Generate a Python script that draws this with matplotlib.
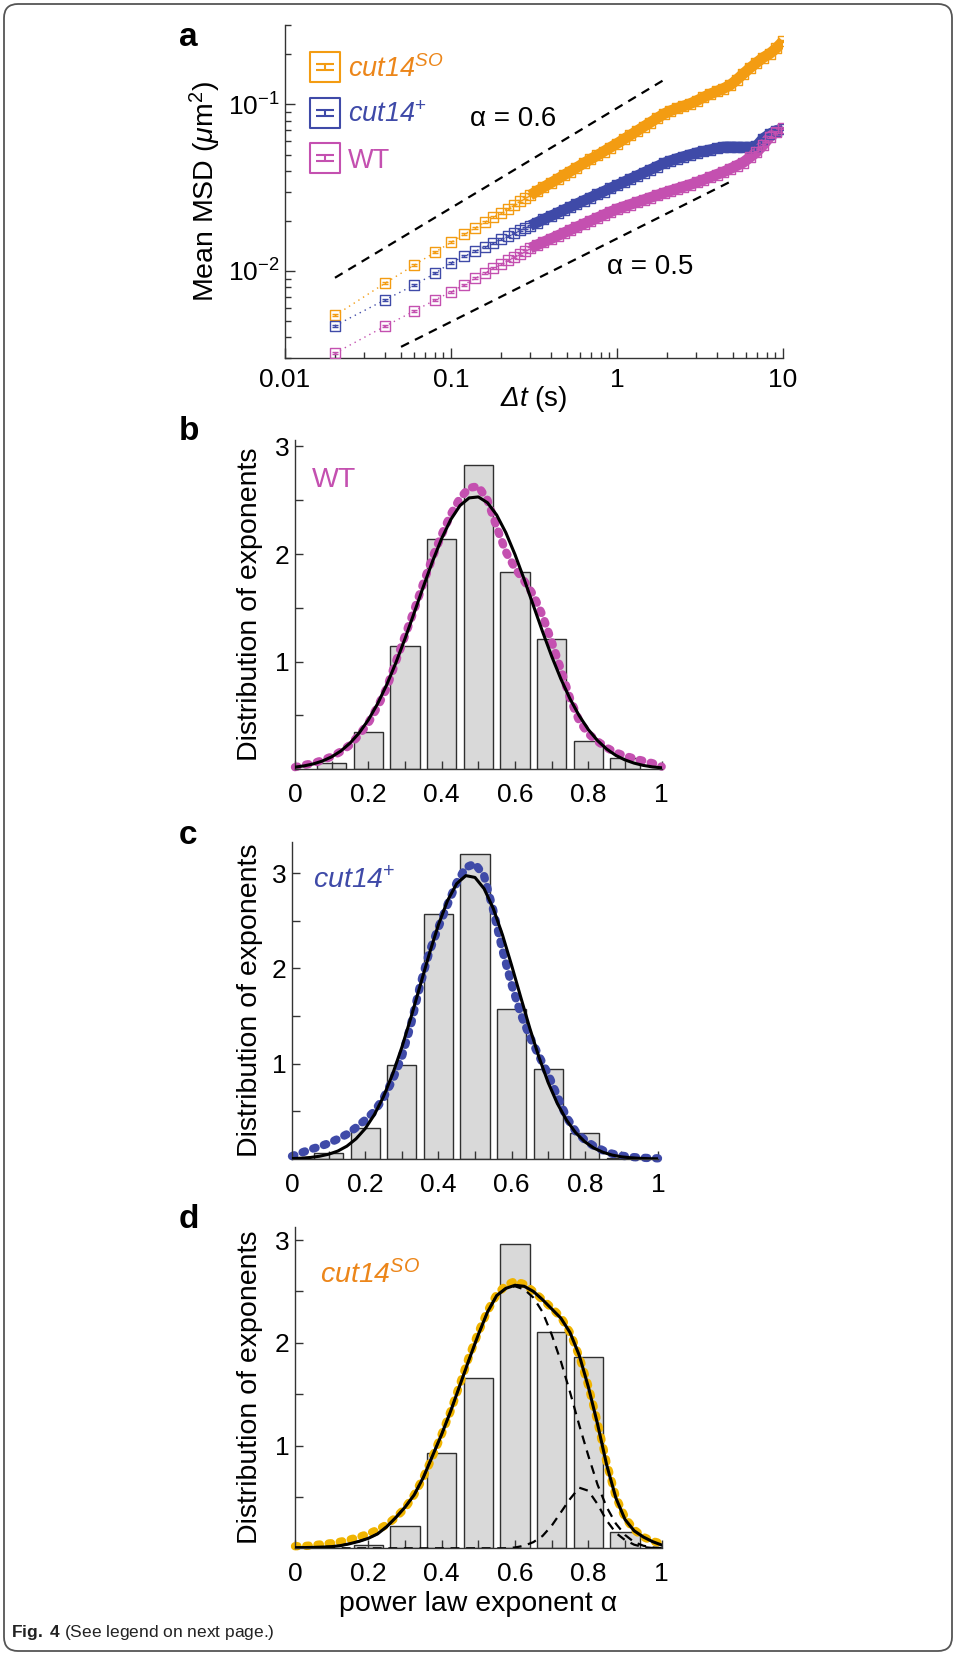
"""Fig. 4: mean MSD curves and distributions of power-law exponents."""

import matplotlib.pyplot as plt
from matplotlib.lines import Line2D
from matplotlib.patches import FancyBboxPatch
from matplotlib.path import Path
from matplotlib.ticker import FixedFormatter, FixedLocator, LogLocator, NullFormatter
from matplotlib.transforms import IdentityTransform

plt.rcParams["font.family"] = ["Liberation Sans", "DejaVu Sans"]
plt.rcParams["mathtext.fontset"] = "custom"
plt.rcParams["mathtext.rm"] = "Liberation Sans"
plt.rcParams["mathtext.it"] = "Liberation Sans:italic"
plt.rcParams["mathtext.sf"] = "Liberation Sans:italic"   # italic digits for gene names
plt.rcParams["mathtext.bf"] = "Liberation Sans:bold"

FIG_W, FIG_H = 956, 1655

# ---- panel a: mean MSD versus lag time (s, um^2)
lag_time = [0.02, 0.04, 0.06, 0.08, 0.10, 0.12, 0.14, 0.16, 0.18, 0.20, 0.22, 0.24, 0.26, 0.28, 0.30,
            0.33, 0.36, 0.40, 0.44, 0.48, 0.52, 0.57, 0.63, 0.69, 0.76, 0.83, 0.91, 1.00,
            1.10, 1.20, 1.32, 1.45, 1.58, 1.74, 1.91, 2.09, 2.29, 2.51, 2.75, 3.02, 3.31, 3.63,
            3.98, 4.37, 4.79, 5.25, 5.75, 6.31, 6.92, 7.59, 8.32, 9.12, 10.0]
msd_so = [0.00540, 0.00843, 0.01084, 0.01294, 0.01486, 0.01656, 0.01815, 0.01963, 0.02104, 0.02239,
          0.02371, 0.02496, 0.02618, 0.02735, 0.02851,
          0.0302, 0.0318, 0.0338, 0.0357, 0.0377, 0.0395, 0.0417, 0.0443, 0.0468, 0.0494, 0.0521,
          0.0551, 0.0582,
          0.0618, 0.0653, 0.0693, 0.0736, 0.0777, 0.0826, 0.0875, 0.0914, 0.0946, 0.0977, 0.1009,
          0.1052, 0.1102, 0.1153, 0.1197, 0.1245, 0.1303, 0.1403, 0.1524, 0.1652, 0.1778, 0.1910,
          0.2018, 0.2178, 0.2399]
msd_plus = [0.00469, 0.00670, 0.00822, 0.00966, 0.01122, 0.01222, 0.01313, 0.01396, 0.01476, 0.01549,
            0.01618, 0.01687, 0.01750, 0.01811, 0.01871,
            0.01954, 0.02037, 0.02138, 0.02234, 0.02328, 0.02415, 0.02523, 0.02642, 0.02754, 0.02884,
            0.03000, 0.03133, 0.03273,
            0.03420, 0.03565, 0.03724, 0.03890, 0.04046, 0.04236, 0.04426, 0.04581, 0.04721, 0.04853,
            0.04989, 0.05117, 0.05224, 0.05333, 0.05445, 0.05546, 0.05559, 0.05546, 0.05534, 0.05534,
            0.05623, 0.06237, 0.06637, 0.06966, 0.07145]
msd_wt = [0.00321, 0.00465, 0.00575, 0.00668, 0.00750, 0.00828, 0.00902, 0.00971, 0.01035, 0.01099,
          0.01156, 0.01213, 0.01268, 0.01321, 0.01371,
          0.01432, 0.01489, 0.01560, 0.01629, 0.01694, 0.01758, 0.01832, 0.01914, 0.01995, 0.02084,
          0.02168, 0.02259, 0.02355,
          0.02432, 0.02506, 0.02588, 0.02673, 0.02754, 0.02844, 0.02938, 0.03027, 0.03112, 0.03206,
          0.03296, 0.03404, 0.03524, 0.03656, 0.03793, 0.03926, 0.04102, 0.04285, 0.04477, 0.04808,
          0.05164, 0.05689, 0.06383, 0.06871, 0.07194]
guide_06_t = [0.02, 2.0]
guide_06_msd = [0.0091, 0.144]
guide_05_t = [0.05, 5.0]
guide_05_msd = [0.0035, 0.035]

# ---- panels b-d: exponent histograms, data curves and fits
bin_centers = [0.1, 0.2, 0.3, 0.4, 0.5, 0.6, 0.7, 0.8, 0.9]
hist_wt = [0.056, 0.35, 1.147, 2.138, 2.829, 1.838, 1.209, 0.267, 0.102]
hist_plus = [0.06, 0.329, 0.986, 2.57, 3.196, 1.573, 0.941, 0.269, 0.014]
hist_so = [0.0, 0.03, 0.217, 0.931, 1.661, 2.965, 2.108, 1.865, 0.156]

alpha_grid = [0.0, 0.025, 0.05, 0.075, 0.1, 0.125, 0.15, 0.175, 0.2, 0.225, 0.25, 0.275, 0.3, 0.325,
              0.35, 0.375, 0.4, 0.425, 0.45, 0.475, 0.5, 0.525, 0.55, 0.575, 0.6, 0.625, 0.65, 0.675,
              0.7, 0.725, 0.75, 0.775, 0.8, 0.825, 0.85, 0.875, 0.9, 0.925, 0.95, 0.975, 1.0]
fit_wt = [0.020, 0.032, 0.050, 0.077, 0.116, 0.170, 0.243, 0.338, 0.459, 0.608, 0.785, 0.989, 1.214,
          1.454, 1.697, 1.932, 2.145, 2.322, 2.451, 2.522, 2.531, 2.477, 2.363, 2.199, 1.995, 1.765,
          1.522, 1.280, 1.050, 0.840, 0.655, 0.498, 0.369, 0.267, 0.188, 0.129, 0.087, 0.057, 0.036,
          0.022, 0.014]
curve_wt = [0.02, 0.04, 0.056, 0.085, 0.118, 0.165, 0.226, 0.32, 0.43, 0.58, 0.753, 1.0, 1.24, 1.48,
            1.73, 1.97, 2.18, 2.37, 2.52, 2.615, 2.63, 2.50, 2.25, 2.02, 1.869, 1.75, 1.62, 1.43, 1.187,
            0.93, 0.66, 0.45, 0.33, 0.26, 0.20, 0.155, 0.125, 0.10, 0.078, 0.056, 0.025]
fit_plus = [0.0045, 0.0086, 0.016, 0.029, 0.050, 0.083, 0.135, 0.212, 0.319, 0.465, 0.655, 0.892,
            1.171, 1.485, 1.819, 2.151, 2.458, 2.712, 2.890, 2.974, 2.955, 2.836, 2.628, 2.353, 2.033,
            1.698, 1.369, 1.066, 0.801, 0.582, 0.408, 0.276, 0.181, 0.114, 0.070, 0.041, 0.023, 0.013,
            0.0068, 0.0035, 0.0017]
curve_plus = [0.03, 0.065, 0.10, 0.13, 0.165, 0.21, 0.26, 0.33, 0.41, 0.50, 0.64, 0.83, 1.07, 1.41,
              1.82, 2.17, 2.43, 2.67, 2.90, 3.06, 3.10, 2.97, 2.61, 2.19, 1.83, 1.52, 1.28, 1.08, 0.89,
              0.66, 0.44, 0.29, 0.20, 0.135, 0.09, 0.055, 0.035, 0.022, 0.015, 0.01, 0.007]
fit_so = [0.006, 0.007, 0.009, 0.012, 0.016, 0.027, 0.045, 0.068, 0.097, 0.14, 0.21, 0.30, 0.40, 0.52,
          0.69, 0.90, 1.11, 1.34, 1.59, 1.84, 2.08, 2.30, 2.46, 2.53, 2.56, 2.55, 2.50, 2.42, 2.33, 2.24,
          2.10, 1.88, 1.57, 1.21, 0.81, 0.49, 0.28, 0.17, 0.11, 0.065, 0.032]
curve_so = [0.02, 0.022, 0.03, 0.04, 0.05, 0.065, 0.085, 0.11, 0.14, 0.18, 0.23, 0.30, 0.39, 0.52, 0.69,
            0.89, 1.11, 1.34, 1.60, 1.87, 2.10, 2.31, 2.47, 2.56, 2.60, 2.57, 2.50, 2.42, 2.34, 2.25,
            2.10, 1.87, 1.58, 1.23, 0.83, 0.50, 0.30, 0.18, 0.11, 0.07, 0.045]
fit_so_slow = [0.006, 0.007, 0.009, 0.012, 0.016, 0.027, 0.045, 0.068, 0.097, 0.14, 0.21, 0.30, 0.40,
               0.52, 0.69, 0.90, 1.11, 1.34, 1.59, 1.84, 2.08, 2.30, 2.46, 2.53, 2.55, 2.52, 2.44, 2.30,
               2.08, 1.82, 1.52, 1.20, 0.90, 0.62, 0.40, 0.24, 0.13, 0.06, 0.025, 0.008, 0.002]
fit_so_fast = [0.0, 0.0, 0.0, 0.0, 0.0, 0.0, 0.0, 0.0, 0.0, 0.0, 0.0, 0.0, 0.0, 0.0, 0.0, 0.0, 0.0, 0.0,
               0.0, 0.0, 0.0, 0.0, 0.0, 0.0, 0.008, 0.025, 0.06, 0.12, 0.22, 0.35, 0.48, 0.59, 0.56,
               0.43, 0.27, 0.15, 0.08, 0.035, 0.012, 0.003, 0.0]

SO_COLOR = "#f39c12"
SO_TEXT = "#ec861a"
SO_CURVE = "#f0b400"
PLUS_COLOR = "#3f4aa8"
WT_COLOR = "#c450b0"
SPINE = "#333333"
LABEL_SO = r"$\mathsf{cut14}^{\mathsf{SO}}$"
LABEL_PLUS = r"$\mathsf{cut14}^{+}$"

box_marker = Path(
    [(-0.5, -0.5), (0.5, -0.5), (0.5, 0.5), (-0.5, 0.5), (-0.5, -0.5),
     (-0.32, 0.09), (0.32, 0.09), (-0.32, -0.09), (0.32, -0.09), (0.0, -0.09), (0.0, 0.09)],
    [Path.MOVETO, Path.LINETO, Path.LINETO, Path.LINETO, Path.CLOSEPOLY,
     Path.MOVETO, Path.LINETO, Path.MOVETO, Path.LINETO, Path.MOVETO, Path.LINETO],
)


def axes_box(figure, left, top, right, bottom):
    return figure.add_axes([left / FIG_W, 1 - bottom / FIG_H,
                            (right - left) / FIG_W, (bottom - top) / FIG_H])


def style_axis(axis):
    for side in ("top", "right"):
        axis.spines[side].set_visible(False)
    for side in ("left", "bottom"):
        axis.spines[side].set_color(SPINE)
        axis.spines[side].set_linewidth(1.0)
    axis.tick_params(which="both", direction="in", color=SPINE, width=1.0, labelsize=19)


def draw_histogram(axis, heights, fit, curve, curve_color, y_top):
    axis.bar(bin_centers, heights, width=0.08, color="#d9d9d9", edgecolor="#303030",
             linewidth=1.0, zorder=1)
    axis.plot(alpha_grid, curve, color=curve_color, lw=6.0, ls=(0, (0.3, 1.05)),
              dash_capstyle="round", zorder=2, clip_on=False)
    axis.plot(alpha_grid, fit, color="black", lw=2.2, zorder=4)
    axis.set_xlim(0, 1)
    axis.set_ylim(0, y_top)
    style_axis(axis)
    axis.xaxis.set_major_locator(FixedLocator([0, 0.2, 0.4, 0.6, 0.8, 1.0]))
    axis.xaxis.set_major_formatter(FixedFormatter(["0", "0.2", "0.4", "0.6", "0.8", "1"]))
    axis.xaxis.set_minor_locator(FixedLocator([0.1, 0.3, 0.5, 0.7, 0.9]))
    axis.yaxis.set_major_locator(FixedLocator([1, 2, 3]))
    axis.yaxis.set_major_formatter(FixedFormatter(["1", "2", "3"]))
    axis.yaxis.set_minor_locator(FixedLocator([0.5, 1.5, 2.5]))
    axis.tick_params(which="both", length=6)
    axis.tick_params(axis="x", which="both", pad=10)
    axis.tick_params(axis="y", which="both", pad=4)
    axis.set_ylabel("Distribution of exponents", fontsize=20.5, va="center")


fig = plt.figure(figsize=(FIG_W / 100, FIG_H / 100), dpi=100)

# ---- a
ax_a = axes_box(fig, 285, 25, 783, 358)
for values, color in ((msd_so, SO_COLOR), (msd_plus, PLUS_COLOR), (msd_wt, WT_COLOR)):
    ax_a.plot(lag_time, values, color=color, lw=1.0, ls=(0, (1, 3)), zorder=2)
    ax_a.plot(lag_time[14:], values[14:], color=color, lw=7.8, solid_capstyle="butt", zorder=3)
    ax_a.plot(lag_time, values, ls="none", marker=box_marker, ms=7.5, mfc="none", mec=color,
              mew=1.0, zorder=4)
ax_a.plot(guide_06_t, guide_06_msd, color="black", lw=1.6, ls=(0, (4, 3)))
ax_a.plot(guide_05_t, guide_05_msd, color="black", lw=1.6, ls=(0, (4, 3)))
ax_a.set_xscale("log")
ax_a.set_yscale("log")
ax_a.set_xlim(0.01, 10)
ax_a.set_ylim(0.003, 0.3)
style_axis(ax_a)
ax_a.xaxis.set_major_locator(FixedLocator([0.01, 0.1, 1, 10]))
ax_a.xaxis.set_major_formatter(FixedFormatter(["0.01", "0.1", "1", "10"]))
ax_a.yaxis.set_major_locator(FixedLocator([0.01, 0.1]))
ax_a.yaxis.set_major_formatter(FixedFormatter([r"$10^{-2}$", r"$10^{-1}$"]))
for log_axis in (ax_a.xaxis, ax_a.yaxis):
    log_axis.set_minor_locator(LogLocator(base=10, subs=range(2, 10), numticks=20))
    log_axis.set_minor_formatter(NullFormatter())
ax_a.tick_params(which="major", length=7)
ax_a.tick_params(which="minor", length=4)
ax_a.tick_params(axis="x", which="both", pad=7)
ax_a.tick_params(axis="y", which="both", pad=4)
ax_a.set_ylabel(r"Mean MSD ($\mu$m$^2$)", fontsize=20.5, va="center")
ax_a.yaxis.set_label_coords(-0.159, 0.5)
ax_a.set_xlabel(r"$\mathsf{\Delta t}$ (s)", fontsize=20, va="center")
ax_a.xaxis.set_label_coords(0.5, -0.123)
ax_a.text(0.237, 0.082, "α = 0.6", ha="center", va="center", fontsize=20)
ax_a.text(1.58, 0.0106, "α = 0.5", ha="center", va="center", fontsize=20)

handles = [Line2D([], [], ls="none", marker=box_marker, ms=21, mfc="none", mec=color, mew=1.5)
           for color in (SO_COLOR, PLUS_COLOR, WT_COLOR)]
legend = ax_a.legend(handles, [LABEL_SO, LABEL_PLUS, "WT"],
                     loc="upper left", bbox_to_anchor=(0.056, 0.91), frameon=False, fontsize=19.5,
                     handlelength=0.9, handletextpad=0.4, labelspacing=0.72, borderaxespad=0,
                     borderpad=0)
for text, color in zip(legend.get_texts(), (SO_TEXT, PLUS_COLOR, WT_COLOR)):
    text.set_color(color)

# ---- b
ax_b = axes_box(fig, 295, 440, 661.7, 769.3)
draw_histogram(ax_b, hist_wt, fit_wt, curve_wt, WT_COLOR, 3.06)
ax_b.yaxis.set_label_coords(-0.123, 0.5)
ax_b.text(0.045, 2.62, "WT", color=WT_COLOR, fontsize=20.5, va="baseline")

# ---- c
ax_c = axes_box(fig, 292, 841.7, 658, 1159)
draw_histogram(ax_c, hist_plus, fit_plus, curve_plus, PLUS_COLOR, 3.33)
ax_c.yaxis.set_label_coords(-0.115, 0.5)
ax_c.text(0.057, 2.84, LABEL_PLUS, color=PLUS_COLOR, fontsize=20.5, va="baseline")

# ---- d
ax_d = axes_box(fig, 295, 1226.7, 661.7, 1548.3)
draw_histogram(ax_d, hist_so, fit_so, curve_so, SO_CURVE, 3.13)
ax_d.plot(alpha_grid, fit_so_slow, color="black", lw=1.6, ls=(0, (4, 3)), zorder=3)
ax_d.plot(alpha_grid, fit_so_fast, color="black", lw=1.6, ls=(0, (4, 3)), zorder=3)
ax_d.yaxis.set_label_coords(-0.123, 0.5)
ax_d.text(0.068, 2.58, LABEL_SO, color=SO_TEXT, fontsize=20.5, va="baseline")
ax_d.set_xlabel("power law exponent α", fontsize=20.5, va="center")
ax_d.xaxis.set_label_coords(0.5, -0.173)

for letter, y_px in (("a", 37), ("b", 432), ("c", 835), ("d", 1219)):
    fig.text(179 / FIG_W, 1 - y_px / FIG_H, letter, fontsize=24, fontweight="bold", va="center")

fig.text(11 / FIG_W, 1 - 1633 / FIG_H, r"$\mathbf{Fig.\ 4}$ (See legend on next page.)",
         fontsize=12.5, va="center", color="#222222")
fig.add_artist(FancyBboxPatch((4, 4), 948, 1647, boxstyle="round,pad=0,rounding_size=14",
                              transform=IdentityTransform(), fill=False, edgecolor="#555555",
                              linewidth=1.3))

fig.savefig("out.png", dpi=100)
plt.close(fig)
